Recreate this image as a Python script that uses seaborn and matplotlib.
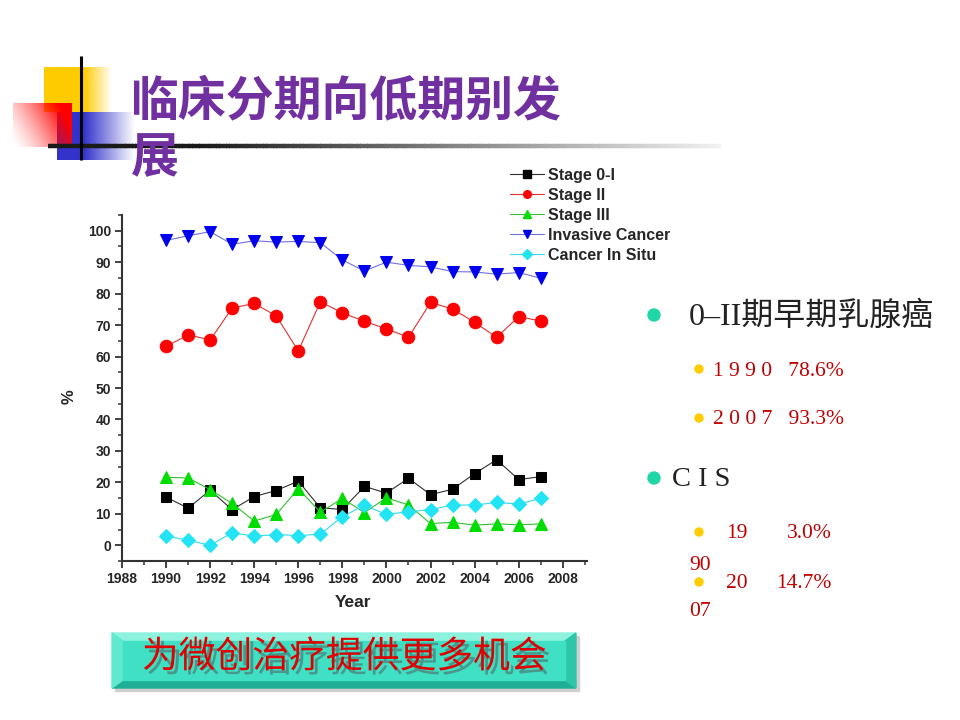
import numpy as np
import pandas as pd
import matplotlib
matplotlib.use("Agg")
import matplotlib.pyplot as plt
import matplotlib.patheffects as pe
from matplotlib.ticker import MultipleLocator
from matplotlib.lines import Line2D
from matplotlib.patches import Rectangle, Polygon, Circle
import seaborn as sns

# ---------------- data ----------------
years = list(range(1990, 2008))
stage_0_1 = [15.3, 11.8, 17.5, 11.3, 15.5, 17.4, 20.4, 11.9, 11.4, 18.7,
             16.6, 21.3, 16.1, 17.8, 22.8, 27.2, 20.9, 21.8]
stage_2 = [63.2, 66.9, 65.3, 75.4, 76.9, 72.9, 61.8, 77.4, 73.9, 71.2,
           68.8, 66.1, 77.2, 75.1, 70.9, 66.1, 72.7, 71.3]
stage_3 = [21.6, 21.4, 17.7, 13.3, 7.7, 9.8, 18.0, 10.5, 14.9, 10.4,
           15.1, 12.8, 6.9, 7.3, 6.4, 6.8, 6.5, 6.8]
invasive = [96.9, 98.4, 99.7, 95.7, 96.8, 96.4, 96.6, 96.2, 90.7, 87.2,
            90.0, 89.0, 88.5, 87.0, 86.9, 86.2, 86.7, 84.9]
cis = [2.9, 1.6, 0.0, 4.0, 2.9, 3.4, 3.1, 3.5, 9.1, 12.7,
       9.8, 10.7, 11.3, 12.8, 12.8, 13.6, 13.1, 14.9]
series_names = ["Stage 0-I", "Stage II", "Stage III", "Invasive Cancer", "Cancer In Situ"]
x_ticks = list(range(1988, 2009, 2))
y_ticks = list(range(0, 101, 10))

title_line1 = "临床分期向低期别发"
title_line2 = "展"
bullet1 = "0–II期早期乳腺癌"
sub1 = "1 9 9 0   78.6%"
sub2 = "2 0 0 7   93.3%"
bullet2 = "C I S"
banner = "为微创治疗提供更多机会"

df = pd.DataFrame({
    "Year": years * 5,
    "Value": stage_0_1 + stage_2 + stage_3 + invasive + cis,
    "Series": sum([[n] * len(years) for n in series_names], []),
})

sns.set_style("ticks")
plt.rcParams["font.family"] = ["Liberation Sans", "DejaVu Sans"]

fig = plt.figure(figsize=(9.6, 7.2), dpi=100)
fig.patch.set_facecolor("white")

# ---------------- decoration overlay (pixel coords) ----------------
bg = fig.add_axes([0, 0, 1, 1], zorder=0)
bg.set_xlim(0, 960)
bg.set_ylim(720, 0)
bg.axis("off")

def hgrad(x0, x1, y0, y1, rgb, fade_start, fade_end, z):
    w = 200
    xs = np.linspace(x0, x1, w)
    a = np.clip((fade_end - xs) / (fade_end - fade_start), 0, 1)
    img = np.zeros((2, w, 4))
    img[..., :3] = rgb
    img[..., 3] = a
    bg.imshow(img, extent=[x0, x1, y1, y0], aspect="auto", zorder=z, interpolation="bilinear")

hgrad(44, 112, 67, 112, (1.0, 0.8, 0.0), 84, 112, 1)
hgrad(57, 135, 112, 160, (0.2, 0.2, 0.8), 84, 135, 1)
# red rect: strong at top-right, fading to bottom-left
h, w = 60, 80
yy, xx = np.mgrid[0:h, 0:w]
a = np.clip((xx / (w - 1)) * 0.85 + (1 - yy / (h - 1)) * 0.35, 0, 1) ** 1.4
img = np.zeros((h, w, 4))
img[..., 0] = 1.0
img[..., 3] = a
bg.imshow(img, extent=[13, 72, 147, 103], aspect="auto", zorder=2, interpolation="bilinear")
# lines
bg.plot([81, 81], [56, 160], color="black", lw=2.2, zorder=4, solid_capstyle="butt")
nseg = 200
xs = np.linspace(48, 720, nseg + 1)
for i in range(nseg):
    xm = (xs[i] + xs[i + 1]) / 2
    t = np.clip((xm - 200) / 520, 0, 1)
    g = 0.1 + 0.85 * t
    bg.plot([xs[i], xs[i + 1] + 0.5], [146, 146], color=(g, g, g), lw=3.2, zorder=3,
            solid_capstyle="butt")

# title
cjk = ["Noto Sans CJK SC", "DejaVu Sans"]
bg.text(131, 101, title_line1, family=cjk, fontsize=34.5, fontweight="bold",
        color="#7030a0", va="center", ha="left", zorder=5)
bg.text(131, 158, title_line2, family=cjk, fontsize=34.5, fontweight="bold",
        color="#7030a0", va="center", ha="left", zorder=5)

# right side bullets
serif = ["Liberation Serif", "Noto Sans CJK SC"]
red = "#c00000"
fs_sub = 15.5
bg.add_patch(Circle((654, 315), 6, color="#1fd6a5", zorder=5))
bg.text(689, 317, bullet1, family=serif, fontsize=23, color="#222222", va="center", ha="left")
bg.add_patch(Circle((699, 369), 4, color="#ffcc00", zorder=5))
bg.text(713, 371, sub1, family=serif, fontsize=fs_sub, color=red, va="center", ha="left")
bg.add_patch(Circle((699, 418), 4, color="#ffcc00", zorder=5))
bg.text(713, 420, sub2, family=serif, fontsize=fs_sub, color=red, va="center", ha="left")
bg.add_patch(Circle((654, 478), 6, color="#1fd6a5", zorder=5))
bg.text(672, 480, bullet2, family=serif, fontsize=20.5, color="#222222", va="center", ha="left")
bg.add_patch(Circle((699, 532), 4, color="#ffcc00", zorder=5))
bg.text(726, 534, "19", family=serif, fontsize=fs_sub, color=red, va="center", ha="left")
bg.text(787, 534, "3.0%", family=serif, fontsize=fs_sub, color=red, va="center", ha="left")
bg.text(689, 565, "90", family=serif, fontsize=fs_sub, color=red, va="center", ha="left")
bg.add_patch(Circle((699, 582), 4, color="#ffcc00", zorder=5))
bg.text(726, 584, "20", family=serif, fontsize=fs_sub, color=red, va="center", ha="left")
bg.text(776, 584, "14.7%", family=serif, fontsize=fs_sub, color=red, va="center", ha="left")
bg.text(689, 611, "07", family=serif, fontsize=fs_sub, color=red, va="center", ha="left")

# bottom beveled banner
L, R, T, B = 112, 576, 633, 688
iL, iR, iT, iB = 123, 565, 641, 680
bg.add_patch(Rectangle((L + 3, T + 3), R - L, B - T, color="#d0d0d0", zorder=4))
bg.add_patch(Polygon([(L, T), (R, T), (iR, iT), (iL, iT)], color="#8df3df", zorder=5))
bg.add_patch(Polygon([(L, B), (R, B), (iR, iB), (iL, iB)], color="#1fae96", zorder=5))
bg.add_patch(Polygon([(L, T), (iL, iT), (iL, iB), (L, B)], color="#5fe9cf", zorder=5))
bg.add_patch(Polygon([(R, T), (iR, iT), (iR, iB), (R, B)], color="#2ec6ab", zorder=5))
bg.add_patch(Rectangle((iL, iT), iR - iL, iB - iT, color="#3fe0c4", zorder=5))
bg.text(344, 657, banner, family=cjk, fontsize=26.5, color="#e00000", va="center",
        ha="center", zorder=7,
        path_effects=[pe.SimplePatchShadow(offset=(3, -3), shadow_rgbFace="#506060", alpha=0.55),
                      pe.Normal()])

# ---------------- chart ----------------
ax = fig.add_axes([122 / 960, 1 - 561 / 720, 465 / 960, 346 / 720], zorder=2)
ax.patch.set_alpha(0)

styles = {
    "Stage 0-I": dict(line="#303030", mk="s", mc="#000000", ms=7.5),
    "Stage II": dict(line="#e03030", mk="o", mc="#ff0000", ms=9),
    "Stage III": dict(line="#33c033", mk="^", mc="#00dd00", ms=9),
    "Invasive Cancer": dict(line="#7070e0", mk="v", mc="#0000ee", ms=9),
    "Cancer In Situ": dict(line="#33d8ee", mk="D", mc="#22e4f4", ms=7.5),
}
handles = []
for name in series_names:
    st = styles[name]
    sub = df[df["Series"] == name]
    sns.lineplot(data=sub, x="Year", y="Value", ax=ax, color=st["line"], lw=0.8,
                 marker=st["mk"], markersize=st["ms"], markerfacecolor=st["mc"],
                 markeredgecolor=st["mc"], legend=False, clip_on=False)
    handles.append(Line2D([], [], color=st["line"], lw=0.8, marker=st["mk"],
                          markersize=5.5, markerfacecolor=st["mc"], markeredgecolor=st["mc"]))

ax.set_xlim(1988, 2009.1)
ax.set_ylim(-5, 105)
ax.set_xticks(x_ticks)
ax.set_yticks(y_ticks)
ax.xaxis.set_minor_locator(MultipleLocator(1))
ax.yaxis.set_minor_locator(MultipleLocator(5))
for s in ["top", "right"]:
    ax.spines[s].set_visible(False)
for s in ["left", "bottom"]:
    ax.spines[s].set_color("#333333")
    ax.spines[s].set_linewidth(1.5)
ax.tick_params(which="major", direction="out", length=5, width=1.3, color="#333333",
               labelsize=10, pad=3)
ax.tick_params(which="minor", direction="out", length=3, width=1.1, color="#333333")
for lab in ax.get_xticklabels() + ax.get_yticklabels():
    lab.set_fontweight("bold")
ax.set_xlabel("Year", fontsize=12.5, fontweight="bold")
ax.set_ylabel("%", fontsize=12, fontweight="bold")
ax.xaxis.set_label_coords((353 - 122) / 465, (561 - 595) / 346)
ax.yaxis.set_label_coords((77 - 122) / 465, (561 - 397) / 346)

ax.legend(handles, series_names, loc="upper left", bbox_to_anchor=(502 / 960, 1 - 160 / 720),
          bbox_transform=fig.transFigure, frameon=False, prop=dict(weight="bold", size=11.5),
          handlelength=2.1, handletextpad=0.25, labelspacing=0.31, borderpad=0, numpoints=1)

fig.savefig("out.png", dpi=100, facecolor="white")
